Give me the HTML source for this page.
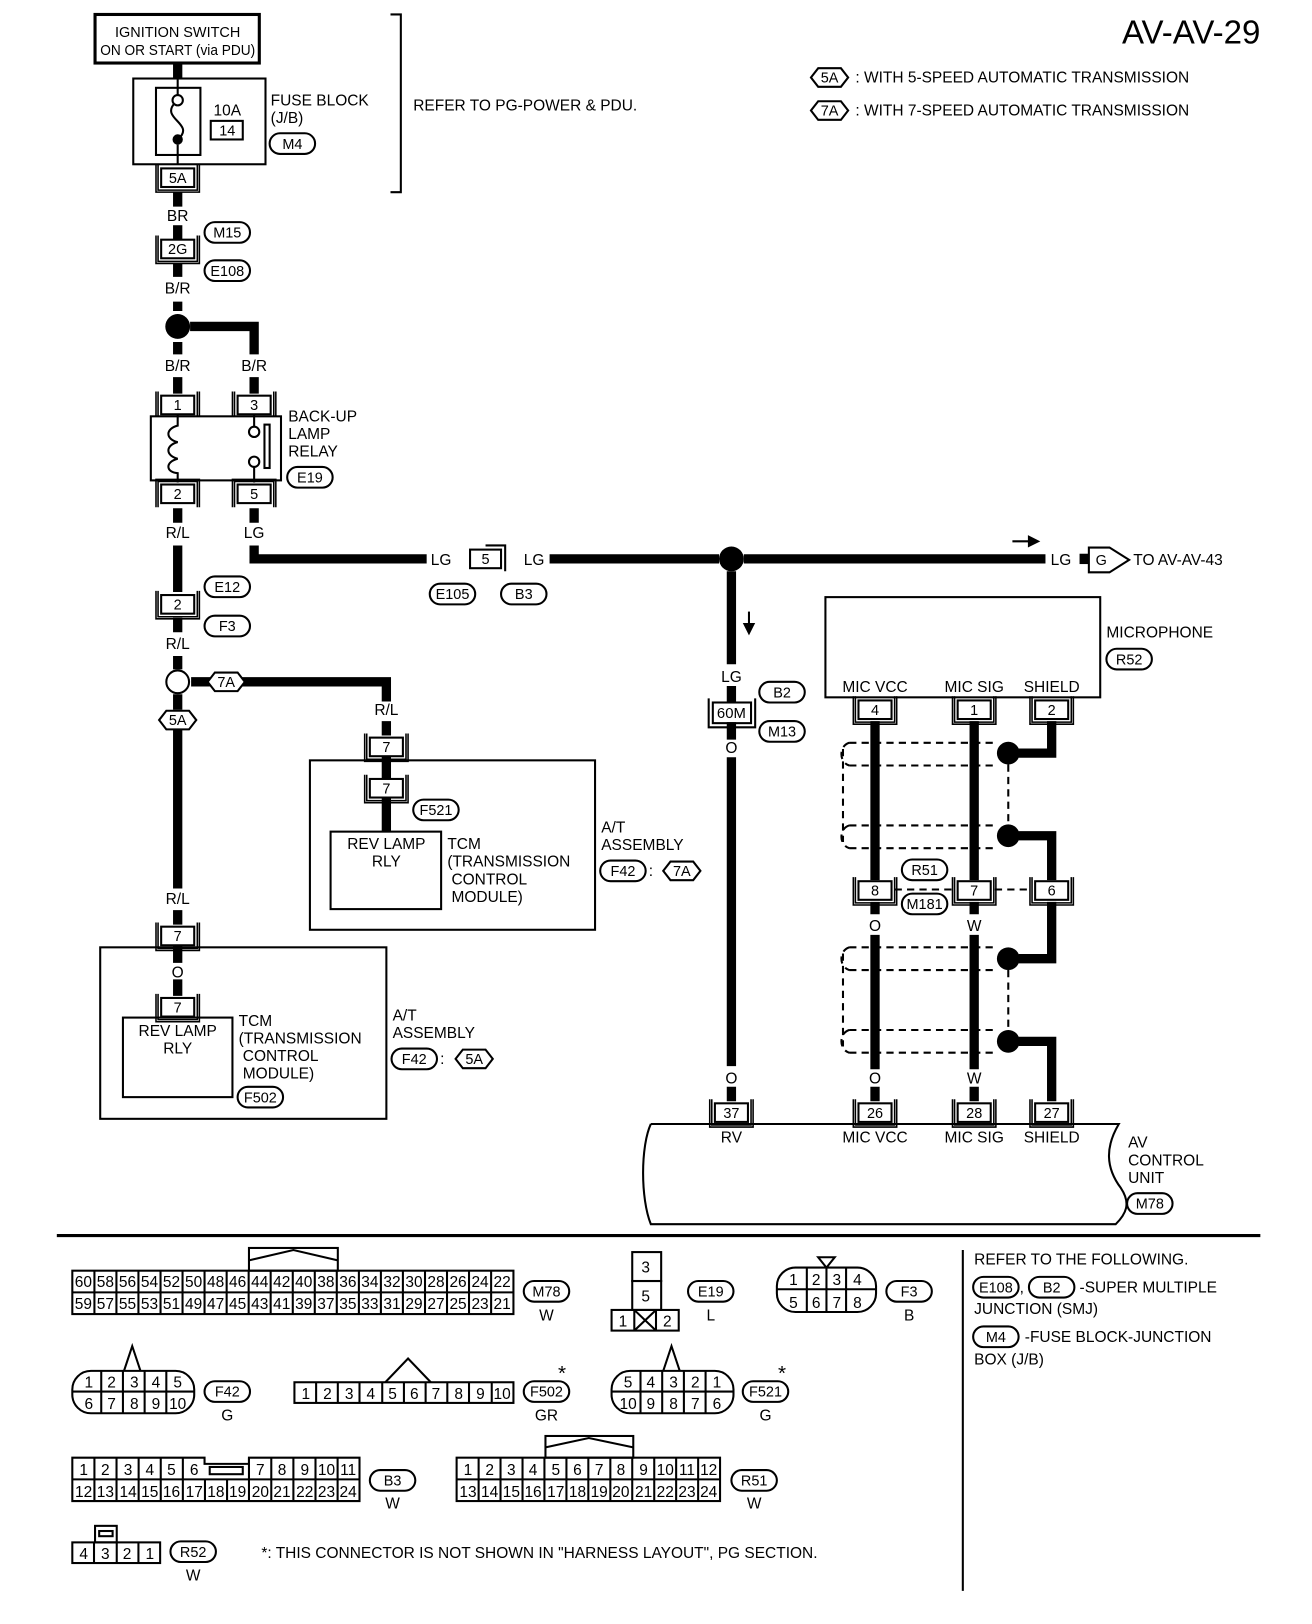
<!DOCTYPE html>
<html><head><meta charset="utf-8"><style>
html,body{margin:0;padding:0;background:#fff}
svg{display:block}
text{font-family:"Liberation Sans",sans-serif;font-size:15px;fill:#000}
.c{text-anchor:middle}
.s{font-size:14px}
.w{fill:none;stroke:#000;stroke-width:9}
.t{fill:none;stroke:#000;stroke-width:2}
.d{fill:none;stroke:#000;stroke-width:2;stroke-dasharray:7 5}
</style></head><body>
<svg width="1312" height="1624" viewBox="0 0 1270 1572" xmlns="http://www.w3.org/2000/svg">
<defs>
<g id="cn"><rect x="-16" y="0" width="32" height="18" fill="#fff" stroke="#000" stroke-width="2"/><path d="M-21,-4V23H21V-4M-19,-4V21H19V-4" fill="none" stroke="#000" stroke-width="1.5"/></g>
<rect id="ov" x="-22" y="-10" width="44" height="20" rx="10" fill="#fff" stroke="#000" stroke-width="2"/>
<polygon id="hx" points="-18,0 -11,-9 11,-9 18,0 11,9 -11,9" fill="#fff" stroke="#000" stroke-width="2"/>
</defs>

<!-- header -->
<text x="1220" y="42" style="font-size:32px;text-anchor:end">AV-AV-29</text>
<g transform="translate(803,75)"><use href="#hx"/><text class="c s" y="5">5A</text></g>
<text x="828" y="80">: WITH 5-SPEED AUTOMATIC TRANSMISSION</text>
<g transform="translate(803,107)"><use href="#hx"/><text class="c s" y="5">7A</text></g>
<text x="828" y="112">: WITH 7-SPEED AUTOMATIC TRANSMISSION</text>

<!-- ignition / fuse -->
<rect x="92" y="14" width="159" height="47" fill="none" stroke="#000" stroke-width="3"/>
<text class="c s" x="172" y="36">IGNITION SWITCH</text>
<text class="c s" x="172" y="53" textLength="150" lengthAdjust="spacingAndGlyphs">ON OR START (via PDU)</text>
<path class="w" d="M172,61V76"/>
<rect x="129" y="76" width="128" height="83" class="t"/>
<rect x="151" y="85" width="43" height="65" class="t"/>
<path class="t" d="M172,76V92M172,140V159M169,100C155,115 190,120 172,135"/>
<circle cx="172" cy="97" r="5" fill="#fff" stroke="#000" stroke-width="2"/>
<circle cx="172" cy="135" r="5"/>
<text class="c" x="220" y="112">10A</text>
<rect x="204" y="117" width="31" height="18" class="t"/><text class="c s" x="220" y="131">14</text>
<text x="262" y="102">FUSE BLOCK</text><text x="262" y="119">(J/B)</text>
<g transform="translate(283,139)"><use href="#ov"/><text class="c s" y="5">M4</text></g>
<path class="t" d="M378,14H388V186H378"/>
<text x="400" y="107">REFER TO PG-POWER &amp; PDU.</text>

<g transform="translate(172,163)"><use href="#cn"/><text class="c s" y="14">5A</text></g>
<path class="w" d="M172,186V200"/><text class="c" x="172" y="214">BR</text>
<path class="w" d="M172,218V232"/>
<g transform="translate(172,232)"><use href="#cn"/><text class="c s" y="14">2G</text></g>
<g transform="translate(220,225)"><use href="#ov"/><text class="c s" y="5">M15</text></g>
<g transform="translate(220,262)"><use href="#ov"/><text class="c s" y="5">E108</text></g>
<path class="w" d="M172,255V268"/><text class="c" x="172" y="284">B/R</text>
<path class="w" d="M172,292V301M172,331V343M184,316H246V343"/>
<circle cx="172" cy="316" r="12"/>
<text class="c" x="172" y="359">B/R</text><text class="c" x="246" y="359">B/R</text>
<path class="w" d="M172,365V381M246,365V381"/>
<g transform="translate(172,383)"><use href="#cn"/><text class="c s" y="14">1</text></g>
<g transform="translate(246,383)"><use href="#cn"/><text class="c s" y="14">3</text></g>
<rect x="146" y="403" width="126" height="62" fill="#fff" stroke="#000" stroke-width="2"/>
<path class="t" d="M172,401V412C160,415 160,425 172,428C160,431 160,441 172,444C160,447 160,457 172,458V467"/>
<path class="t" d="M246,401V413M246,452V467"/>
<circle cx="246" cy="418" r="5" fill="#fff" stroke="#000" stroke-width="2"/>
<circle cx="246" cy="447" r="5" fill="#fff" stroke="#000" stroke-width="2"/>
<rect x="256" y="411" width="5" height="42" class="t"/>
<g transform="translate(246,469) scale(1,-1) translate(0,-18)"><use href="#cn"/></g>
<g transform="translate(172,469) scale(1,-1) translate(0,-18)"><use href="#cn"/></g>
<text class="c s" x="172" y="483">2</text><text class="c s" x="246" y="483">5</text>
<text x="279" y="408">BACK-UP</text><text x="279" y="425">LAMP</text><text x="279" y="442">RELAY</text>
<g transform="translate(300,462)"><use href="#ov"/><text class="c s" y="5">E19</text></g>
<path class="w" d="M172,492V506M246,492V506"/>
<text class="c" x="172" y="521">R/L</text><text class="c" x="246" y="521">LG</text>

<!-- LG horizontal -->
<path class="w" d="M246,528V541H413M532,541H696M720,541H1012"/>
<text class="c" x="427" y="547">LG</text><text class="c" x="517" y="547">LG</text>
<rect x="455" y="532" width="30" height="18" class="t"/><text class="c s" x="470" y="546">5</text>
<path class="t" d="M470,528H489V553"/>
<g transform="translate(438,575)"><use href="#ov"/><text class="c s" y="5">E105</text></g>
<g transform="translate(507,575)"><use href="#ov"/><text class="c s" y="5">B3</text></g>
<circle cx="708" cy="541" r="12"/>
<path d="M980,524H997" stroke="#000" stroke-width="2"/><polygon points="995,518 1007,524 995,530"/>
<text class="c" x="1027" y="547">LG</text>
<rect x="1045" y="536" width="9" height="10"/>
<polygon points="1054,530 1074,530 1093,542 1074,554 1054,554" fill="#fff" stroke="#000" stroke-width="2"/>
<text class="c s" x="1066" y="547">G</text>
<text x="1097" y="547">TO AV-AV-43</text>

<!-- left R/L chain -->
<path class="w" d="M172,528V573"/>
<g transform="translate(172,576)"><use href="#cn"/><text class="c s" y="14">2</text></g>
<g transform="translate(220,568)"><use href="#ov"/><text class="c s" y="5">E12</text></g>
<g transform="translate(220,606)"><use href="#ov"/><text class="c s" y="5">F3</text></g>
<path class="w" d="M172,598V612"/><text class="c" x="172" y="628">R/L</text>
<path class="w" d="M172,635V648M172,672V687M185,660H374V679"/>
<circle cx="172" cy="660" r="11" fill="#fff" stroke="#000" stroke-width="2"/>
<g transform="translate(219,660)"><use href="#hx"/><text class="c s" y="5">7A</text></g>
<text class="c" x="374" y="692">R/L</text>
<path class="w" d="M374,698V712M374,731V805"/>
<g transform="translate(374,714)"><use href="#cn"/><text class="c s" y="14">7</text></g>
<rect x="300" y="736" width="276" height="164" class="t"/>
<g transform="translate(374,754)"><use href="#cn"/><text class="c s" y="14">7</text></g>
<g transform="translate(422,784)"><use href="#ov"/><text class="c s" y="5">F521</text></g>
<rect x="320" y="805" width="107" height="75" class="t" fill="#fff"/>
<text class="c" x="374" y="822">REV LAMP</text><text class="c" x="374" y="839">RLY</text>
<text x="433" y="822">TCM</text><text x="433" y="839">(TRANSMISSION</text><text x="437" y="856">CONTROL</text><text x="437" y="873">MODULE)</text>
<text x="582" y="806">A/T</text><text x="582" y="823">ASSEMBLY</text>
<g transform="translate(603,843)"><use href="#ov"/><text class="c s" y="5">F42</text></g>
<text x="628" y="848">:</text>
<g transform="translate(660,843)"><use href="#hx"/><text class="c s" y="5">7A</text></g>

<path class="w" d="M172,706V860"/>
<g transform="translate(172,697)"><use href="#hx"/><text class="c s" y="5">5A</text></g>
<text class="c" x="172" y="875">R/L</text>
<path class="w" d="M172,881V895M172,915V932M172,948V964"/>
<g transform="translate(172,897)"><use href="#cn"/><text class="c s" y="14">7</text></g>
<rect x="97" y="917" width="277" height="166" class="t"/>
<text class="c" x="172" y="946">O</text>
<g transform="translate(172,966)"><use href="#cn"/><text class="c s" y="14">7</text></g>
<rect x="119" y="985" width="106" height="77" class="t" fill="#fff"/>
<text class="c" x="172" y="1003">REV LAMP</text><text class="c" x="172" y="1020">RLY</text>
<text x="231" y="993">TCM</text><text x="231" y="1010">(TRANSMISSION</text><text x="235" y="1027">CONTROL</text><text x="235" y="1044">MODULE)</text>
<g transform="translate(252,1062)"><use href="#ov"/><text class="c s" y="5">F502</text></g>
<text x="380" y="988">A/T</text><text x="380" y="1005">ASSEMBLY</text>
<g transform="translate(401,1025)"><use href="#ov"/><text class="c s" y="5">F42</text></g>
<text x="426" y="1030">:</text>
<g transform="translate(459,1025)"><use href="#hx"/><text class="c s" y="5">5A</text></g>

<!-- RV wire -->
<path class="w" d="M708,553V643"/>
<path d="M725,592V606" stroke="#000" stroke-width="2"/><polygon points="719,603 731,603 725,615"/>
<text class="c" x="708" y="660">LG</text>
<path class="w" d="M708,664V680M708,699V716M708,733V1032M708,1052V1066"/>
<rect x="690" y="680" width="37" height="20" class="t"/><path class="t" d="M686,676V704H731V676"/>
<text class="c s" x="708" y="695" textLength="28" lengthAdjust="spacingAndGlyphs">60M</text>
<g transform="translate(757,670)"><use href="#ov"/><text class="c s" y="5">B2</text></g>
<g transform="translate(757,708)"><use href="#ov"/><text class="c s" y="5">M13</text></g>
<text class="c" x="708" y="729">O</text>
<text class="c" x="708" y="1049">O</text>

<!-- microphone -->
<rect x="799" y="578" width="266" height="97" class="t"/>
<text x="1071" y="617">MICROPHONE</text>
<g transform="translate(1093,638)"><use href="#ov"/><text class="c s" y="5">R52</text></g>
<text class="c" x="847" y="670">MIC VCC</text><text class="c" x="943" y="670">MIC SIG</text><text class="c" x="1018" y="670">SHIELD</text>
<g class="d">
<path d="M822,719H965M822,741H965M822,799H965M822,821H965M816,725V815M822,719C812,722 812,738 822,741M822,799C812,802 812,818 822,821M976,740V800"/>
<path d="M822,917H965M822,939H965M822,997H965M822,1019H965M816,923V1013M822,917C812,920 812,936 822,939M822,997C812,1000 812,1016 822,1019M976,939V999"/>
<path d="M866,861H925M963,861H998"/>
</g>
<g transform="translate(847,678)"><use href="#cn"/><text class="c s" y="14">4</text></g>
<g transform="translate(943,678)"><use href="#cn"/><text class="c s" y="14">1</text></g>
<g transform="translate(1018,678)"><use href="#cn"/><text class="c s" y="14">2</text></g>
<path class="w" d="M847,698V852M943,698V852M847,873V885M943,873V885M847,905V1035M943,905V1035M847,1052V1066M943,1052V1066"/>
<path class="w" d="M1018,698V729H986M986,809H1018V852M1018,873V928H986M986,1008H1018V1066"/>
<circle cx="976" cy="729" r="11"/><circle cx="976" cy="809" r="11"/>
<circle cx="976" cy="928" r="11"/><circle cx="976" cy="1008" r="11"/>
<g transform="translate(847,853)"><use href="#cn"/><text class="c s" y="14">8</text></g>
<g transform="translate(943,853)"><use href="#cn"/><text class="c s" y="14">7</text></g>
<g transform="translate(1018,853)"><use href="#cn"/><text class="c s" y="14">6</text></g>
<g transform="translate(895,842)"><use href="#ov"/><text class="c s" y="5">R51</text></g>
<g transform="translate(895,875)"><use href="#ov"/><text class="c s" y="5">M181</text></g>
<text class="c" x="847" y="901">O</text><text class="c" x="943" y="901">W</text>
<text class="c" x="847" y="1049">O</text><text class="c" x="943" y="1049">W</text>

<!-- AV control unit -->
<path class="t" d="M630,1088H1083C1070,1110 1070,1130 1085,1150C1095,1165 1090,1175 1080,1185H630C620,1160 620,1110 630,1088"/>
<g transform="translate(708,1068)"><use href="#cn"/><text class="c s" y="14">37</text></g>
<g transform="translate(847,1068)"><use href="#cn"/><text class="c s" y="14">26</text></g>
<g transform="translate(943,1068)"><use href="#cn"/><text class="c s" y="14">28</text></g>
<g transform="translate(1018,1068)"><use href="#cn"/><text class="c s" y="14">27</text></g>
<text class="c" x="708" y="1106">RV</text><text class="c" x="847" y="1106">MIC VCC</text><text class="c" x="943" y="1106">MIC SIG</text><text class="c" x="1018" y="1106">SHIELD</text>
<text x="1092" y="1111">AV</text><text x="1092" y="1128">CONTROL</text><text x="1092" y="1145">UNIT</text>
<g transform="translate(1113,1165)"><use href="#ov"/><text class="c s" y="5">M78</text></g>

<!-- bottom section -->
<path d="M55,1196H1220" stroke="#000" stroke-width="3"/>
<path d="M932,1210V1540" stroke="#000" stroke-width="2"/>
<g style="font-size:15px">
<text x="943" y="1224">REFER TO THE FOLLOWING.</text>
<text x="987" y="1251">,</text><text x="1045" y="1251">-SUPER MULTIPLE</text>
<text x="943" y="1272">JUNCTION (SMJ)</text>
<text x="992" y="1299">-FUSE BLOCK-JUNCTION</text>
<text x="943" y="1321">BOX (J/B)</text>
</g>
<g transform="translate(964,1246)"><use href="#ov"/><text class="c s" y="5">E108</text></g>
<g transform="translate(1018,1246)"><use href="#ov"/><text class="c s" y="5">B2</text></g>
<g transform="translate(964,1294)"><use href="#ov"/><text class="c s" y="5">M4</text></g>

<!-- M78 -->
<g style="font-size:12px">
<rect x="241" y="1208" width="86" height="22" class="t"/><path class="t" d="M241,1220L284,1210L327,1220" />
<rect x="70" y="1230" width="427" height="42" class="t" stroke-width="3"/>
<path class="t" d="M70,1251H497M91.4,1230V1272M112.7,1230V1272M134,1230V1272M155.4,1230V1272M176.7,1230V1272M198,1230V1272M219.4,1230V1272M240.7,1230V1272M262,1230V1272M283.4,1230V1272M304.7,1230V1272M326,1230V1272M347.4,1230V1272M368.7,1230V1272M390,1230V1272M411.4,1230V1272M432.7,1230V1272M454,1230V1272M475.4,1230V1272"/>
<text class="c" x="80.7" y="1246">60</text><text class="c" x="102" y="1246">58</text><text class="c" x="123.4" y="1246">56</text><text class="c" x="144.7" y="1246">54</text><text class="c" x="166" y="1246">52</text><text class="c" x="187.4" y="1246">50</text><text class="c" x="208.7" y="1246">48</text><text class="c" x="230" y="1246">46</text><text class="c" x="251.4" y="1246">44</text><text class="c" x="272.7" y="1246">42</text><text class="c" x="294" y="1246">40</text><text class="c" x="315.4" y="1246">38</text><text class="c" x="336.7" y="1246">36</text><text class="c" x="358" y="1246">34</text><text class="c" x="379.4" y="1246">32</text><text class="c" x="400.7" y="1246">30</text><text class="c" x="422" y="1246">28</text><text class="c" x="443.4" y="1246">26</text><text class="c" x="464.7" y="1246">24</text><text class="c" x="486" y="1246">22</text>
<text class="c" x="80.7" y="1267">59</text><text class="c" x="102" y="1267">57</text><text class="c" x="123.4" y="1267">55</text><text class="c" x="144.7" y="1267">53</text><text class="c" x="166" y="1267">51</text><text class="c" x="187.4" y="1267">49</text><text class="c" x="208.7" y="1267">47</text><text class="c" x="230" y="1267">45</text><text class="c" x="251.4" y="1267">43</text><text class="c" x="272.7" y="1267">41</text><text class="c" x="294" y="1267">39</text><text class="c" x="315.4" y="1267">37</text><text class="c" x="336.7" y="1267">35</text><text class="c" x="358" y="1267">33</text><text class="c" x="379.4" y="1267">31</text><text class="c" x="400.7" y="1267">29</text><text class="c" x="422" y="1267">27</text><text class="c" x="443.4" y="1267">25</text><text class="c" x="464.7" y="1267">23</text><text class="c" x="486" y="1267">21</text>
</g>
<g transform="translate(529,1250)"><use href="#ov"/><text class="c s" y="5">M78</text></g><text class="c" x="529" y="1278">W</text>

<!-- E19 -->
<rect x="612" y="1212" width="28" height="28" class="t"/><rect x="612" y="1240" width="28" height="28" class="t"/>
<rect x="592" y="1268" width="65" height="20" class="t"/><path class="t" d="M614,1268V1288M635,1268V1288M614,1268L635,1288M635,1268L614,1288"/>
<text class="c" x="625" y="1232">3</text><text class="c" x="625" y="1260">5</text><text class="c" x="603" y="1284">1</text><text class="c" x="646" y="1284">2</text>
<g transform="translate(688,1250)"><use href="#ov"/><text class="c s" y="5">E19</text></g><text class="c" x="688" y="1278">L</text>

<!-- F3 -->
<rect x="752" y="1227" width="96" height="43" rx="18" class="t" stroke-width="3"/>
<path class="t" d="M752,1248H848M781,1227V1270M800,1227V1270M819,1227V1270M792,1217H808L800,1227Z"/>
<g class="c" style="font-size:14px"><text x="768" y="1244">1</text><text x="790" y="1244">2</text><text x="810" y="1244">3</text><text x="830" y="1244">4</text><text x="768" y="1266">5</text><text x="790" y="1266">6</text><text x="810" y="1266">7</text><text x="830" y="1266">8</text></g>
<g transform="translate(880,1250)"><use href="#ov"/><text class="c s" y="5">F3</text></g><text class="c" x="880" y="1278">B</text>

<!-- F42 -->
<rect x="70" y="1327" width="118" height="41" rx="18" class="t" stroke-width="3"/>
<path class="t" d="M70,1347H188M98,1327V1368M119,1327V1368M140,1327V1368M161,1327V1368M120,1327L128,1303L136,1327"/>
<g class="c" style="font-size:14px"><text x="86" y="1343">1</text><text x="108" y="1343">2</text><text x="130" y="1343">3</text><text x="151" y="1343">4</text><text x="172" y="1343">5</text><text x="86" y="1364">6</text><text x="108" y="1364">7</text><text x="130" y="1364">8</text><text x="151" y="1364">9</text><text x="172" y="1364">10</text></g>
<g transform="translate(220,1347)"><use href="#ov"/><text class="c s" y="5">F42</text></g><text class="c" x="220" y="1375">G</text>

<!-- F502 -->
<rect x="285" y="1338" width="212" height="20" class="t" stroke-width="3"/>
<path class="t" d="M306,1338V1358M327,1338V1358M348,1338V1358M370,1338V1358M391,1338V1358M412,1338V1358M433,1338V1358M454,1338V1358M476,1338V1358M373,1338L395,1315L417,1338"/>
<g class="c" style="font-size:14px"><text x="296" y="1354">1</text><text x="317" y="1354">2</text><text x="338" y="1354">3</text><text x="359" y="1354">4</text><text x="380" y="1354">5</text><text x="401" y="1354">6</text><text x="422" y="1354">7</text><text x="444" y="1354">8</text><text x="465" y="1354">9</text><text x="486" y="1354">10</text></g>
<g transform="translate(529,1347)"><use href="#ov"/><text class="c s" y="5">F502</text></g><text class="c" x="544" y="1336" style="font-size:20px">*</text><text class="c" x="529" y="1375">GR</text>

<!-- F521 -->
<rect x="592" y="1327" width="118" height="41" rx="18" class="t" stroke-width="3"/>
<path class="t" d="M592,1347H710M620,1327V1368M641,1327V1368M662,1327V1368M683,1327V1368M642,1327L650,1303L658,1327"/>
<g class="c" style="font-size:14px"><text x="608" y="1343">5</text><text x="630" y="1343">4</text><text x="652" y="1343">3</text><text x="673" y="1343">2</text><text x="694" y="1343">1</text><text x="608" y="1364">10</text><text x="630" y="1364">9</text><text x="652" y="1364">8</text><text x="673" y="1364">7</text><text x="694" y="1364">6</text></g>
<g transform="translate(741,1347)"><use href="#ov"/><text class="c s" y="5">F521</text></g><text class="c" x="757" y="1336" style="font-size:20px">*</text><text class="c" x="741" y="1375">G</text>

<!-- B3 -->
<path class="t" stroke-width="3" d="M70,1411H198V1417H241V1411H348V1453H70Z"/>
<path class="t" d="M70,1432H348M91.4,1411V1453M112.8,1411V1453M134.2,1411V1453M155.6,1411V1453M177,1411V1453M198.4,1432V1453M219.8,1432V1453M241,1411V1453M262.6,1411V1453M284,1411V1453M305.4,1411V1453M326.8,1411V1453"/>
<rect x="203" y="1420" width="32" height="7" class="t"/>
<g class="c" style="font-size:14px"><text x="81" y="1428">1</text><text x="102" y="1428">2</text><text x="124" y="1428">3</text><text x="145" y="1428">4</text><text x="166" y="1428">5</text><text x="188" y="1428">6</text><text x="252" y="1428">7</text><text x="273" y="1428">8</text><text x="295" y="1428">9</text><text x="316" y="1428">10</text><text x="337" y="1428">11</text>
<text x="81" y="1449">12</text><text x="102" y="1449">13</text><text x="124" y="1449">14</text><text x="145" y="1449">15</text><text x="166" y="1449">16</text><text x="188" y="1449">17</text><text x="209" y="1449">18</text><text x="230" y="1449">19</text><text x="252" y="1449">20</text><text x="273" y="1449">21</text><text x="295" y="1449">22</text><text x="316" y="1449">23</text><text x="337" y="1449">24</text></g>
<g transform="translate(380,1433)"><use href="#ov"/><text class="c s" y="5">B3</text></g><text class="c" x="380" y="1460">W</text>

<!-- R51 -->
<rect x="528" y="1390" width="85" height="21" class="t"/><path class="t" d="M528,1401L570,1392L613,1401"/>
<rect x="442" y="1411" width="255" height="42" class="t" stroke-width="3"/>
<path class="t" d="M442,1432H697M463.3,1411V1453M484.5,1411V1453M505.8,1411V1453M527,1411V1453M548.3,1411V1453M569.5,1411V1453M590.8,1411V1453M612,1411V1453M633.3,1411V1453M654.5,1411V1453M675.8,1411V1453"/>
<g class="c" style="font-size:14px"><text x="453" y="1428">1</text><text x="474" y="1428">2</text><text x="495" y="1428">3</text><text x="516" y="1428">4</text><text x="538" y="1428">5</text><text x="559" y="1428">6</text><text x="580" y="1428">7</text><text x="601" y="1428">8</text><text x="623" y="1428">9</text><text x="644" y="1428">10</text><text x="665" y="1428">11</text><text x="686" y="1428">12</text>
<text x="453" y="1449">13</text><text x="474" y="1449">14</text><text x="495" y="1449">15</text><text x="516" y="1449">16</text><text x="538" y="1449">17</text><text x="559" y="1449">18</text><text x="580" y="1449">19</text><text x="601" y="1449">20</text><text x="623" y="1449">21</text><text x="644" y="1449">22</text><text x="665" y="1449">23</text><text x="686" y="1449">24</text></g>
<g transform="translate(730,1433)"><use href="#ov"/><text class="c s" y="5">R51</text></g><text class="c" x="730" y="1460">W</text>

<!-- R52 -->
<rect x="92" y="1477" width="21" height="16" class="t"/><rect x="96" y="1482" width="13" height="5" class="t"/>
<rect x="70" y="1493" width="85" height="20" class="t" stroke-width="3"/>
<path class="t" d="M91,1493V1513M113,1493V1513M134,1493V1513"/>
<g class="c" style="font-size:14px"><text x="81" y="1509">4</text><text x="102" y="1509">3</text><text x="123" y="1509">2</text><text x="145" y="1509">1</text></g>
<g transform="translate(187,1502)"><use href="#ov"/><text class="c s" y="5">R52</text></g><text class="c" x="187" y="1530">W</text>
<text x="253" y="1508">*: THIS CONNECTOR IS NOT SHOWN IN "HARNESS LAYOUT", PG SECTION.</text>
</svg>
</body></html>
